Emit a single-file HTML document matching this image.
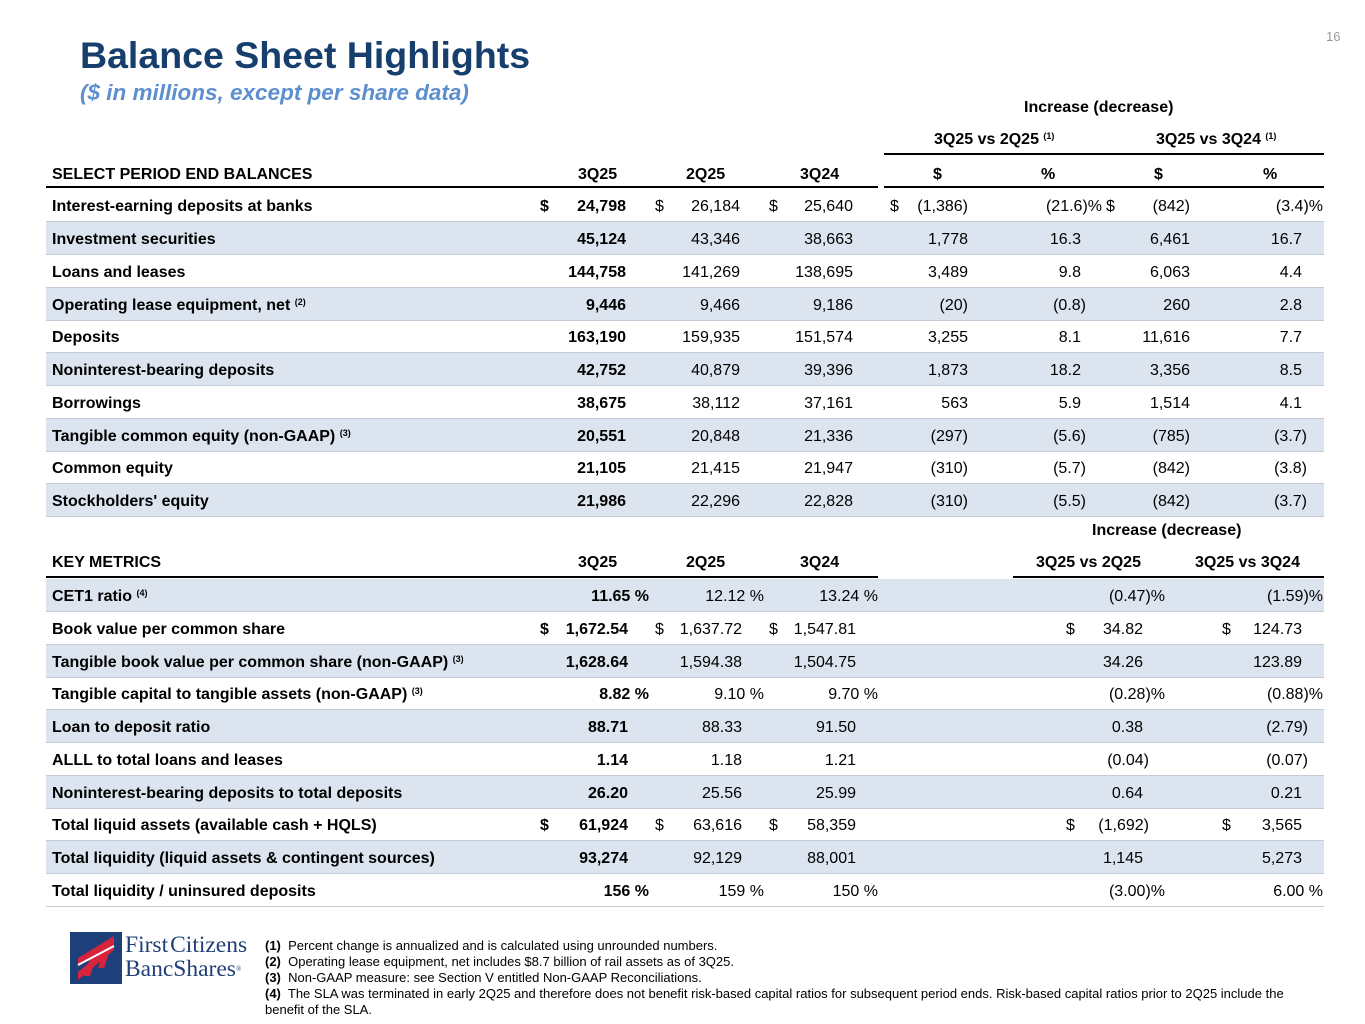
<!DOCTYPE html>
<html><head><meta charset="utf-8"><style>
body{margin:0;width:1365px;height:1024px;background:#fff;font-family:"Liberation Sans",Arial,sans-serif;position:relative;overflow:hidden;color:#000}
.a{position:absolute;white-space:nowrap}
.row{position:absolute;left:46px;width:1278px;height:32px;border-bottom:1px solid #c3ccd6;font-size:16px;line-height:32px}
.s{background:#dce5ef}
.row span{position:absolute;white-space:nowrap;top:2px}
.l{left:6px;font-weight:bold}
.b{font-weight:bold}
sup{font-size:9px;vertical-align:5px;line-height:0}
.h{font-size:16px;font-weight:bold;position:absolute;white-space:nowrap}
.fn{position:absolute;left:265px;font-size:13px;line-height:16px;width:1045px}
</style></head><body>
<div class="a" style="left:1326px;top:29px;font-size:13px;color:#999">16</div>
<div class="a" style="left:80px;top:34px;font-size:37.5px;font-weight:bold;color:#163f6d">Balance Sheet Highlights</div>
<div class="a" style="left:80px;top:80px;font-size:22.5px;font-weight:bold;font-style:italic;color:#5d8fd0">($ in millions, except per share data)</div>

<div class="h" style="left:1024px;top:99px">Increase (decrease)</div>
<div class="h" style="left:934px;top:131px">3Q25 vs 2Q25 <sup>(1)</sup></div>
<div class="h" style="left:1156px;top:131px">3Q25 vs 3Q24 <sup>(1)</sup></div>
<div class="a" style="left:884px;top:153px;width:440px;height:2px;background:#000"></div>
<div class="h" style="left:52px;top:166px">SELECT PERIOD END BALANCES</div>
<div class="h" style="left:578px;top:166px">3Q25</div>
<div class="h" style="left:686px;top:166px">2Q25</div>
<div class="h" style="left:800px;top:166px">3Q24</div>
<div class="h" style="left:933px;top:166px">$</div>
<div class="h" style="left:1041px;top:166px">%</div>
<div class="h" style="left:1154px;top:166px">$</div>
<div class="h" style="left:1263px;top:166px">%</div>
<div class="a" style="left:46px;top:186px;width:832px;height:2px;background:#000"></div>
<div class="a" style="left:884px;top:186px;width:440px;height:2px;background:#000"></div>

<div class="row" style="top:189px"><span class="l">Interest-earning deposits at banks</span><span class="b" style="left:494px">$</span><span class="b" style="right:698px">24,798</span><span style="left:609px">$</span><span style="right:584px">26,184</span><span style="left:723px">$</span><span style="right:471px">25,640</span><span style="left:844px">$</span><span style="right:356px">(1,386)</span><span style="right:222px">(21.6)%</span><span style="left:1060px">$</span><span style="right:134px">(842)</span><span style="right:1px">(3.4)%</span></div>
<div class="row s" style="top:222px"><span class="l">Investment securities</span><span class="b" style="right:698px">45,124</span><span style="right:584px">43,346</span><span style="right:471px">38,663</span><span style="right:356px">1,778</span><span style="right:243px">16.3</span><span style="right:134px">6,461</span><span style="right:22px">16.7</span></div>
<div class="row" style="top:255px"><span class="l">Loans and leases</span><span class="b" style="right:698px">144,758</span><span style="right:584px">141,269</span><span style="right:471px">138,695</span><span style="right:356px">3,489</span><span style="right:243px">9.8</span><span style="right:134px">6,063</span><span style="right:22px">4.4</span></div>
<div class="row s" style="top:288px"><span class="l">Operating lease equipment, net <sup>(2)</sup></span><span class="b" style="right:698px">9,446</span><span style="right:584px">9,466</span><span style="right:471px">9,186</span><span style="right:356px">(20)</span><span style="right:238px">(0.8)</span><span style="right:134px">260</span><span style="right:22px">2.8</span></div>
<div class="row" style="top:320px"><span class="l">Deposits</span><span class="b" style="right:698px">163,190</span><span style="right:584px">159,935</span><span style="right:471px">151,574</span><span style="right:356px">3,255</span><span style="right:243px">8.1</span><span style="right:134px">11,616</span><span style="right:22px">7.7</span></div>
<div class="row s" style="top:353px"><span class="l">Noninterest-bearing deposits</span><span class="b" style="right:698px">42,752</span><span style="right:584px">40,879</span><span style="right:471px">39,396</span><span style="right:356px">1,873</span><span style="right:243px">18.2</span><span style="right:134px">3,356</span><span style="right:22px">8.5</span></div>
<div class="row" style="top:386px"><span class="l">Borrowings</span><span class="b" style="right:698px">38,675</span><span style="right:584px">38,112</span><span style="right:471px">37,161</span><span style="right:356px">563</span><span style="right:243px">5.9</span><span style="right:134px">1,514</span><span style="right:22px">4.1</span></div>
<div class="row s" style="top:419px"><span class="l">Tangible common equity (non-GAAP) <sup>(3)</sup></span><span class="b" style="right:698px">20,551</span><span style="right:584px">20,848</span><span style="right:471px">21,336</span><span style="right:356px">(297)</span><span style="right:238px">(5.6)</span><span style="right:134px">(785)</span><span style="right:17px">(3.7)</span></div>
<div class="row" style="top:451px"><span class="l">Common equity</span><span class="b" style="right:698px">21,105</span><span style="right:584px">21,415</span><span style="right:471px">21,947</span><span style="right:356px">(310)</span><span style="right:238px">(5.7)</span><span style="right:134px">(842)</span><span style="right:17px">(3.8)</span></div>
<div class="row s" style="top:484px"><span class="l">Stockholders' equity</span><span class="b" style="right:698px">21,986</span><span style="right:584px">22,296</span><span style="right:471px">22,828</span><span style="right:356px">(310)</span><span style="right:238px">(5.5)</span><span style="right:134px">(842)</span><span style="right:17px">(3.7)</span></div>

<div class="h" style="left:1092px;top:522px">Increase (decrease)</div>
<div class="h" style="left:52px;top:554px">KEY METRICS</div>
<div class="h" style="left:578px;top:554px">3Q25</div>
<div class="h" style="left:686px;top:554px">2Q25</div>
<div class="h" style="left:800px;top:554px">3Q24</div>
<div class="h" style="left:1036px;top:554px">3Q25 vs 2Q25</div>
<div class="h" style="left:1195px;top:554px">3Q25 vs 3Q24</div>
<div class="a" style="left:46px;top:576px;width:832px;height:2px;background:#000"></div>
<div class="a" style="left:1013px;top:576px;width:311px;height:2px;background:#000"></div>

<div class="row s" style="top:579px"><span class="l">CET1 ratio <sup>(4)</sup></span><span class="b" style="right:675px">11.65 %</span><span style="right:560px">12.12 %</span><span style="right:446px">13.24 %</span><span style="right:159px">(0.47)%</span><span style="right:1px">(1.59)%</span></div>
<div class="row" style="top:612px"><span class="l">Book value per common share</span><span class="b" style="left:494px">$</span><span class="b" style="right:696px">1,672.54</span><span style="left:609px">$</span><span style="right:582px">1,637.72</span><span style="left:723px">$</span><span style="right:468px">1,547.81</span><span style="left:1020px">$</span><span style="right:181px">34.82</span><span style="left:1176px">$</span><span style="right:22px">124.73</span></div>
<div class="row s" style="top:645px"><span class="l">Tangible book value per common share (non-GAAP) <sup>(3)</sup></span><span class="b" style="right:696px">1,628.64</span><span style="right:582px">1,594.38</span><span style="right:468px">1,504.75</span><span style="right:181px">34.26</span><span style="right:22px">123.89</span></div>
<div class="row" style="top:677px"><span class="l">Tangible capital to tangible assets (non-GAAP) <sup>(3)</sup></span><span class="b" style="right:675px">8.82 %</span><span style="right:560px">9.10 %</span><span style="right:446px">9.70 %</span><span style="right:159px">(0.28)%</span><span style="right:1px">(0.88)%</span></div>
<div class="row s" style="top:710px"><span class="l">Loan to deposit ratio</span><span class="b" style="right:696px">88.71</span><span style="right:582px">88.33</span><span style="right:468px">91.50</span><span style="right:181px">0.38</span><span style="right:16px">(2.79)</span></div>
<div class="row" style="top:743px"><span class="l">ALLL to total loans and leases</span><span class="b" style="right:696px">1.14</span><span style="right:582px">1.18</span><span style="right:468px">1.21</span><span style="right:175px">(0.04)</span><span style="right:16px">(0.07)</span></div>
<div class="row s" style="top:776px"><span class="l">Noninterest-bearing deposits to total deposits</span><span class="b" style="right:696px">26.20</span><span style="right:582px">25.56</span><span style="right:468px">25.99</span><span style="right:181px">0.64</span><span style="right:22px">0.21</span></div>
<div class="row" style="top:808px"><span class="l">Total liquid assets (available cash + HQLS)</span><span class="b" style="left:494px">$</span><span class="b" style="right:696px">61,924</span><span style="left:609px">$</span><span style="right:582px">63,616</span><span style="left:723px">$</span><span style="right:468px">58,359</span><span style="left:1020px">$</span><span style="right:175px">(1,692)</span><span style="left:1176px">$</span><span style="right:22px">3,565</span></div>
<div class="row s" style="top:841px"><span class="l">Total liquidity (liquid assets &amp; contingent sources)</span><span class="b" style="right:696px">93,274</span><span style="right:582px">92,129</span><span style="right:468px">88,001</span><span style="right:181px">1,145</span><span style="right:22px">5,273</span></div>
<div class="row" style="top:874px"><span class="l">Total liquidity / uninsured deposits</span><span class="b" style="right:675px">156 %</span><span style="right:560px">159 %</span><span style="right:446px">150 %</span><span style="right:159px">(3.00)%</span><span style="right:1px">6.00 %</span></div>

<svg class="a" style="left:70px;top:932px" width="52" height="52" viewBox="0 0 52 52">
<rect width="52" height="52" fill="#1d3f7a"/>
<path d="M8 40 L44 10 L44 18 L8 48Z M8 26 L44 4 L44 12 L8 34Z" fill="#d7233c"/>
<path d="M14 44 L22 20 L28 20 L20 44Z M28 36 L36 12 L42 12 L34 36Z" fill="#d7233c"/>
<path d="M8 33 L44 14" stroke="#fff" stroke-width="2"/>
</svg>
<div class="a" style="left:125px;top:933px;font-family:'Liberation Serif',serif;font-size:23.5px;line-height:24px;color:#1f3f78">First<span style="margin-left:2px">Citizens</span><br>BancShares<sup style="font-size:7px">®</sup></div>

<div class="fn" style="top:938px"><b>(1)</b>&nbsp; Percent change is annualized and is calculated using unrounded numbers.</div>
<div class="fn" style="top:954px"><b>(2)</b>&nbsp; Operating lease equipment, net includes $8.7 billion of rail assets as of 3Q25.</div>
<div class="fn" style="top:970px"><b>(3)</b>&nbsp; Non-GAAP measure: see Section V entitled Non-GAAP Reconciliations.</div>
<div class="fn" style="top:986px"><b>(4)</b>&nbsp; The SLA was terminated in early 2Q25 and therefore does not benefit risk-based capital ratios for subsequent period ends. Risk-based capital ratios prior to 2Q25 include the benefit of the SLA.</div>
</body></html>
